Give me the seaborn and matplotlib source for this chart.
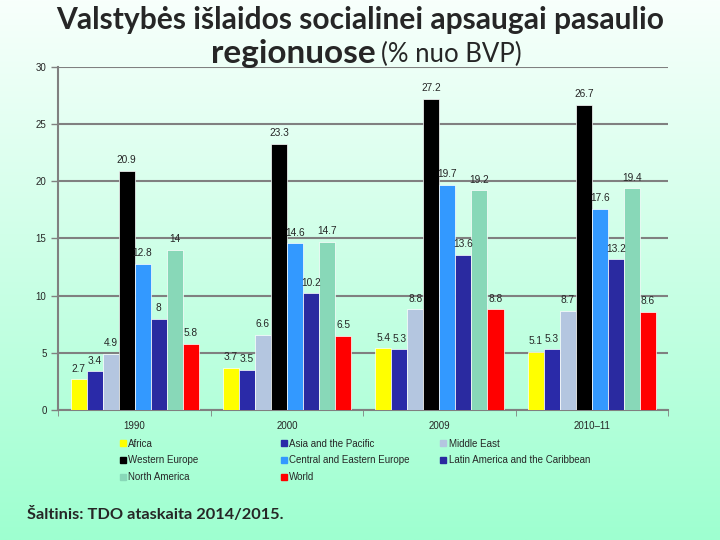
import numpy as np
import pandas as pd
import matplotlib
matplotlib.use('Agg')
import matplotlib.pyplot as plt
from matplotlib.lines import Line2D
import seaborn as sns

# Data (% of GDP)
years = ['1990', '2000', '2009', '2010–11']
regions = ['Africa', 'Asia and the Pacific', 'Middle East', 'Western Europe',
           'Central and Eastern Europe', 'Latin America and the Caribbean',
           'North America', 'World']
africa = [2.7, 3.7, 5.4, 5.1]
asia_pacific = [3.4, 3.5, 5.3, 5.3]
middle_east = [4.9, 6.6, 8.8, 8.7]
western_europe = [20.9, 23.3, 27.2, 26.7]
central_eastern_europe = [12.8, 14.6, 19.7, 17.6]
latin_america = [8, 10.2, 13.6, 13.2]
north_america = [14, 14.7, 19.2, 19.4]
world = [5.8, 6.5, 8.8, 8.6]

colors = ['#ffff00', '#2a2aa8', '#b4c6e0', '#000000',
          '#3399ff', '#2a2aa0', '#88d8b8', '#ff0000']

series = [africa, asia_pacific, middle_east, western_europe,
          central_eastern_europe, latin_america, north_america, world]
rows = []
for reg, vals in zip(regions, series):
    for yr, v in zip(years, vals):
        rows.append({'year': yr, 'region': reg, 'value': v})
df = pd.DataFrame(rows)

sns.set_style('white')
plt.rcParams['font.family'] = ['Liberation Sans', 'DejaVu Sans']

fig = plt.figure(figsize=(7.2, 5.4), dpi=100)

# gradient background
bg = fig.add_axes([0, 0, 1, 1], zorder=-10)
top = np.array([248, 255, 252]) / 255
bottom = np.array([158, 255, 208]) / 255
t = np.linspace(0, 1, 256)[:, None]
grad = top * (1 - t) + bottom * t
bg.imshow(np.repeat(grad[:, None, :], 2, axis=1), aspect='auto', extent=[0, 1, 0, 1])
bg.axis('off')

ax = fig.add_axes([0.081, 0.2407, 0.847, 0.6353])
ax.patch.set_alpha(0)
sns.barplot(data=df, x='year', y='value', hue='region', hue_order=regions,
            palette=colors, saturation=1, width=0.84, edgecolor='white',
            linewidth=0.5, legend=False, ax=ax, zorder=3)

for cont in ax.containers:
    ax.bar_label(cont, fmt='{:g}', padding=4, fontsize=7.3)

ax.set_ylim(0, 30)
ax.set_xlim(-0.5, 3.5)
ax.set_yticks([0, 5, 10, 15, 20, 25, 30])
ax.yaxis.grid(True, color='#808080', linewidth=1.5, zorder=0)
ax.set_axisbelow(True)
ax.set_xlabel('')
ax.set_ylabel('')
for s in ['top', 'right']:
    ax.spines[s].set_visible(False)
for s in ['left', 'bottom']:
    ax.spines[s].set_color('#808080')
    ax.spines[s].set_linewidth(1.5)
ax.tick_params(axis='y', labelsize=7, length=5, color='#808080', width=1, left=True)
ax.tick_params(axis='x', which='major', labelsize=7, length=0, pad=8)
ax.set_xticks([-0.5, 0.5, 1.5, 2.5, 3.5], minor=True)
ax.tick_params(axis='x', which='minor', length=4, color='#808080', bottom=True)

# legend in three columns
def handle(c):
    return Line2D([], [], marker='s', linestyle='', markersize=4,
                  markerfacecolor=c, markeredgecolor=c)

columns = [[0, 3, 6], [1, 4, 7], [2, 5]]
xs = [0.162, 0.385, 0.607]
for idx, x in zip(columns, xs):
    leg = fig.legend([handle(colors[i]) for i in idx], [regions[i] for i in idx],
                     loc='upper left', bbox_to_anchor=(x, 0.195), frameon=False,
                     fontsize=7, handlelength=0.5, handletextpad=0.3,
                     labelspacing=0.7, borderaxespad=0)

# title
fig.text(0.5, 0.963, 'Valstybės išlaidos socialinei apsaugai pasaulio',
         ha='center', va='center', fontsize=21.6, fontweight='bold', family='Lato')
fig.text(0.522, 0.9, 'regionuose', ha='right', va='center', fontsize=24,
         fontweight='bold', family='Lato')
fig.text(0.529, 0.9, '(% nuo BVP)', ha='left', va='center', fontsize=18.5,
         family='Lato')

fig.text(0.038, 0.047, 'Šaltinis: TDO ataskaita 2014/2015.', ha='left', va='center',
         fontsize=11.8, fontweight='bold', family='Lato')

fig.savefig('out.png', dpi=100)
